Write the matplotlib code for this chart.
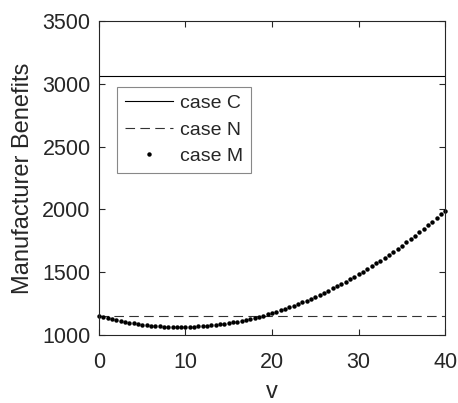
import numpy as np
import matplotlib
matplotlib.use('Agg')
import matplotlib.pyplot as plt

plt.rcParams['font.family'] = ['Liberation Sans', 'DejaVu Sans']

# values
v_line = [0, 40]
case_c = [3060, 3060]
case_n = [1150, 1150]

v_m = np.arange(0, 40.5, 0.5)
case_m = [1150.0, 1140.9, 1132.4, 1124.3, 1116.8, 1109.7, 1103.1, 1097.0,
          1091.4, 1086.3, 1081.8, 1077.6, 1074.0, 1070.9, 1068.3, 1066.2,
          1064.6, 1063.4, 1062.8, 1062.6, 1063.0, 1063.8, 1065.2, 1067.0,
          1069.4, 1072.2, 1075.5, 1079.3, 1083.6, 1088.4, 1093.8, 1099.5,
          1105.8, 1112.6, 1119.9, 1127.7, 1136.0, 1144.7, 1154.0, 1163.7,
          1174.0, 1184.7, 1196.0, 1207.7, 1220.0, 1232.7, 1245.9, 1259.6,
          1273.8, 1288.5, 1303.8, 1319.4, 1335.6, 1352.3, 1369.5, 1387.2,
          1405.4, 1424.0, 1443.2, 1462.8, 1483.0, 1503.6, 1524.8, 1546.4,
          1568.6, 1591.2, 1614.3, 1637.9, 1662.0, 1686.6, 1711.8, 1737.3,
          1763.4, 1790.0, 1817.1, 1844.7, 1872.8, 1901.3, 1930.4, 1960.0,
          1990.0]

x_ticks = [0, 10, 20, 30, 40]
y_ticks = [1000, 1500, 2000, 2500, 3000, 3500]

fig = plt.figure(figsize=(4.58, 4.03), dpi=100)
ax = fig.add_axes([0.216, 0.169, 0.756, 0.779])

ax.plot(v_line, case_c, color='black', lw=0.8, label='case C')
ax.plot(v_line, case_n, color='#333333', lw=0.8, ls=(0, (8.6, 4.8)), label='case N')
ax.plot(v_m, case_m, ls='none', marker='o', ms=3.2, color='black',
        markeredgewidth=0, label='case M', clip_on=False)

ax.set_xlim(0, 40)
ax.set_ylim(1000, 3500)
ax.set_xticks(x_ticks)
ax.set_yticks(y_ticks)

txt = '#262626'
ax.tick_params(direction='in', top=True, right=True, labelsize=15.5,
               colors=txt, length=4, width=0.8)
ax.tick_params(axis='x', pad=12)
ax.tick_params(axis='y', pad=6)
for sp in ax.spines.values():
    sp.set_color('#262626')
    sp.set_linewidth(0.8)

ax.set_xlabel('v', fontsize=17, color=txt, labelpad=6)
ax.set_ylabel('Manufacturer Benefits', fontsize=17, color=txt, labelpad=6)

leg = ax.legend(loc='upper left', bbox_to_anchor=(0.052, 0.79), fontsize=14,
                fancybox=False, framealpha=1, edgecolor='#888888',
                borderpad=0.4, labelspacing=0.45, handlelength=2.5,
                handletextpad=0.35, markerscale=1.0, borderaxespad=0)
leg.get_frame().set_linewidth(0.8)
for t in leg.get_texts():
    t.set_color(txt)

fig.savefig('out.png', dpi=100)
